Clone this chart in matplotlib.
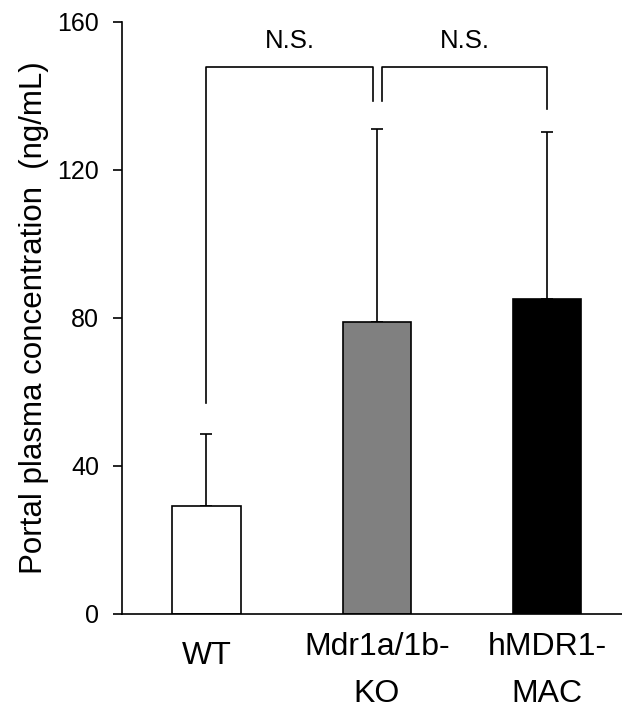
import matplotlib
matplotlib.use("Agg")
import matplotlib.pyplot as plt
import matplotlib.transforms as mtransforms

plt.rcParams['font.family'] = ['Liberation Sans', 'DejaVu Sans']

# Data
groups = ['WT', 'Mdr1a/1b-\nKO', 'hMDR1-\nMAC']
means = [29.2, 78.9, 85.0]
sd_upper = [19.4, 52.1, 45.3]
bar_colors = ['white', '#808080', 'black']

# significance brackets: (x start, x end, left leg bottom, right leg bottom, top, label)
bracket_x0 = [0.0, 1.03]
bracket_x1 = [0.975, 2.0]
bracket_lo_left = [57.0, 138.7]
bracket_lo_right = [138.7, 136.5]
bracket_top = 147.8
bracket_text = ['N.S.', 'N.S.']

yticks = [0, 40, 80, 120, 160]

fig = plt.figure(figsize=(6.22, 7.09), dpi=100)
ax = fig.add_axes([0.1961, 0.134, 0.804, 0.835])

x = list(range(len(groups)))
ax.bar(x, means, width=0.4, color=bar_colors, edgecolor='black', linewidth=1.2, zorder=2)
ax.errorbar(x, means, yerr=[[0] * len(means), sd_upper], fmt='none', ecolor='black',
            elinewidth=1.2, capsize=4.5, capthick=1.2, zorder=1)

# brackets
for i in range(len(bracket_text)):
    ax.plot([bracket_x0[i], bracket_x0[i], bracket_x1[i], bracket_x1[i]],
            [bracket_lo_left[i], bracket_top, bracket_top, bracket_lo_right[i]],
            color='black', linewidth=1.2, clip_on=False)
    ax.text((bracket_x0[i] + bracket_x1[i]) / 2, 153, bracket_text[i],
            ha='center', va='baseline', fontsize=18.5)

ax.set_xlim(-0.496, 2.44)
ax.set_ylim(0, 160)
ax.set_yticks(yticks)
ax.tick_params(axis='y', direction='out', length=6.5, width=1.2, labelsize=18, pad=10)
ax.set_xticks([])
ax.spines['top'].set_visible(False)
ax.spines['right'].set_visible(False)
ax.spines['left'].set_linewidth(1.2)
ax.spines['bottom'].set_linewidth(1.2)

# category labels under the bars
trans = mtransforms.blended_transform_factory(ax.transData, ax.transAxes)
label_y = [-0.046, -0.030, -0.030]
for i, g in enumerate(groups):
    ax.text(x[i], label_y[i], g, transform=trans, ha='center', va='top',
            fontsize=23, linespacing=1.75)

ax.set_ylabel('Portal plasma concentration  (ng/mL)', fontsize=22.5)
ax.yaxis.set_label_coords(-0.146, 0.5)

fig.savefig('out.png', dpi=100)
